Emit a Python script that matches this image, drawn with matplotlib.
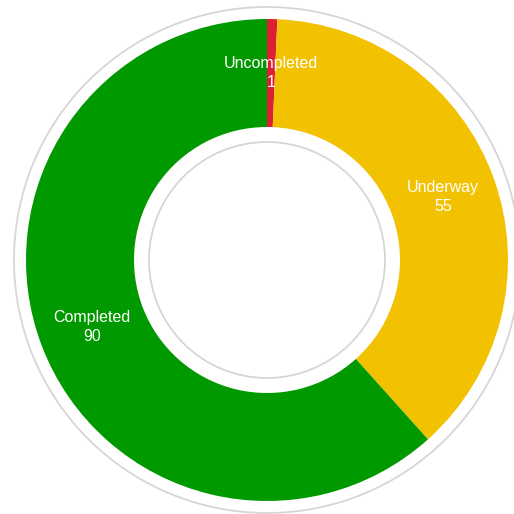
import numpy as np
import matplotlib
matplotlib.use("Agg")
import matplotlib.pyplot as plt
from matplotlib.patches import Circle

categories = ["Uncompleted", "Underway", "Completed"]
values = [1, 55, 90]
colors = ["#DC1F32", "#F2C200", "#009900"]

W = 514
fig = plt.figure(figsize=(5.14, 5.14), dpi=100)
ax = fig.add_axes([0, 0, 1, 1])
ax.set_xlim(0, W)
ax.set_ylim(0, W)
ax.set_aspect("equal")
ax.axis("off")

cx, cy = 267, W - 260
R_out, R_in = 241, 133

wedges, _ = ax.pie(values, colors=colors, startangle=90, counterclock=False,
                   center=(cx, cy), radius=R_out,
                   wedgeprops=dict(width=R_out - R_in, linewidth=0))

ax.add_patch(Circle((cx, cy), 253, fill=False, edgecolor="#d6d6d6", linewidth=1.3))
ax.add_patch(Circle((cx, cy), 118, fill=False, edgecolor="#d6d6d6", linewidth=1.3))

rmid = (R_out + R_in) / 2
for w, cat, v in zip(wedges, categories, values):
    ang = np.deg2rad((w.theta1 + w.theta2) / 2)
    x = cx + rmid * np.cos(ang)
    y = cy + rmid * np.sin(ang)
    ax.text(x, y, f"{cat}\n{v}", ha="center", va="center", color="white",
            fontsize=11.5, family=["Liberation Sans", "DejaVu Sans"], linespacing=1.3)

ax.set_xlim(0, W)
ax.set_ylim(0, W)
fig.savefig("out.png", dpi=100)
